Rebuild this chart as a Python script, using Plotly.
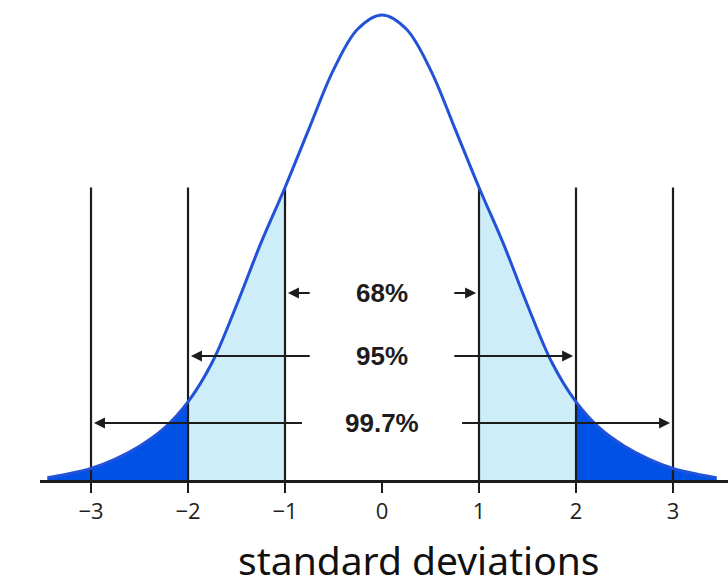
import plotly.graph_objects as go

# Bell curve sampled at quarter standard deviations (density values)
sd_x = [-3.45, -3.25, -3.0, -2.75, -2.5, -2.25, -2.0, -1.75, -1.5, -1.25, -1.0,
        -0.75, -0.5, -0.25, 0.0, 0.25, 0.5, 0.75, 1.0, 1.25, 1.5, 1.75, 2.0,
        2.25, 2.5, 2.75, 3.0, 3.25, 3.45]
density = [0.002, 0.005, 0.010, 0.018, 0.029, 0.044, 0.067, 0.101, 0.150, 0.203, 0.251,
           0.302, 0.352, 0.387, 0.399, 0.387, 0.352, 0.302, 0.251, 0.203, 0.150, 0.101, 0.067,
           0.044, 0.029, 0.018, 0.010, 0.005, 0.002]

tick_vals = [-3, -2, -1, 0, 1, 2, 3]
guide_x = [-3, -2, -1, 1, 2, 3]
guide_top = 0.251

# Coverage bands: label, level, inner arrow start, outer arrow tip
band_labels = ["68%", "95%", "99.7%"]
band_levels = [0.1605, 0.1064, 0.0489]
band_inner = [0.73, 0.73, 0.81]
band_outer = [0.97, 1.97, 2.97]

axis_title = "standard deviations"

LIGHT = "#cdeef9"
DARK = "#0052e6"
CURVE = "#2152d8"
INK = "#1c1c1c"


def segment(lo, hi):
    xs = [x for x in sd_x if lo <= x <= hi]
    ys = [d for x, d in zip(sd_x, density) if lo <= x <= hi]
    return xs, ys


fig = go.Figure()

for lo, hi, col in [(-3.45, -2, DARK), (-2, -1, LIGHT), (1, 2, LIGHT), (2, 3.45, DARK)]:
    xs, ys = segment(lo, hi)
    fig.add_trace(go.Scatter(x=xs, y=ys, mode="lines", line=dict(width=0, shape="spline"),
                             fill="tozeroy", fillcolor=col, hoverinfo="skip"))

# vertical guides at each standard deviation
vx, vy = [], []
for g in guide_x:
    vx += [g, g, None]
    vy += [0, guide_top, None]
fig.add_trace(go.Scatter(x=vx, y=vy, mode="lines", line=dict(color=INK, width=2.2),
                         hoverinfo="skip"))

fig.add_trace(go.Scatter(x=sd_x, y=density, mode="lines",
                         line=dict(color=CURVE, width=3, shape="spline"), hoverinfo="skip"))

annotations = []
for label, lvl, inner, outer in zip(band_labels, band_levels, band_inner, band_outer):
    annotations.append(dict(x=0, y=lvl, text="<b>" + label + "</b>", showarrow=False,
                            font=dict(family="Liberation Sans", size=26, color=INK),
                            xanchor="center", yanchor="middle"))
    for sign in (-1, 1):
        annotations.append(dict(x=sign * outer, y=lvl, ax=sign * inner, ay=lvl,
                                xref="x", yref="y", axref="x", ayref="y", text="",
                                showarrow=True, arrowhead=2, arrowsize=1.1, arrowwidth=2,
                                arrowcolor=INK, standoff=0, startstandoff=0))

annotations.append(dict(x=0.38, y=-0.165, xref="x", yref="paper", text=axis_title,
                        showarrow=False, font=dict(family="Noto Sans", size=39, color="#111"),
                        xanchor="center", yanchor="middle"))

fig.update_layout(
    width=728, height=586,
    margin=dict(l=40, r=0, t=0, b=106),
    paper_bgcolor="white", plot_bgcolor="white",
    showlegend=False,
    annotations=annotations,
    xaxis=dict(range=[-3.526, 3.567], tickmode="array", tickvals=tick_vals,
               showgrid=False, zeroline=False, showline=True, linecolor=INK, linewidth=3,
               ticks="outside", ticklen=10, tickwidth=2, tickcolor=INK,
               ticklabelstandoff=0,
               tickfont=dict(family="Open Sans", size=22, color="#1e1e1e"), fixedrange=True),
    yaxis=dict(range=[0, 0.4119], visible=False, fixedrange=True),
)

fig.write_html("out.html")
